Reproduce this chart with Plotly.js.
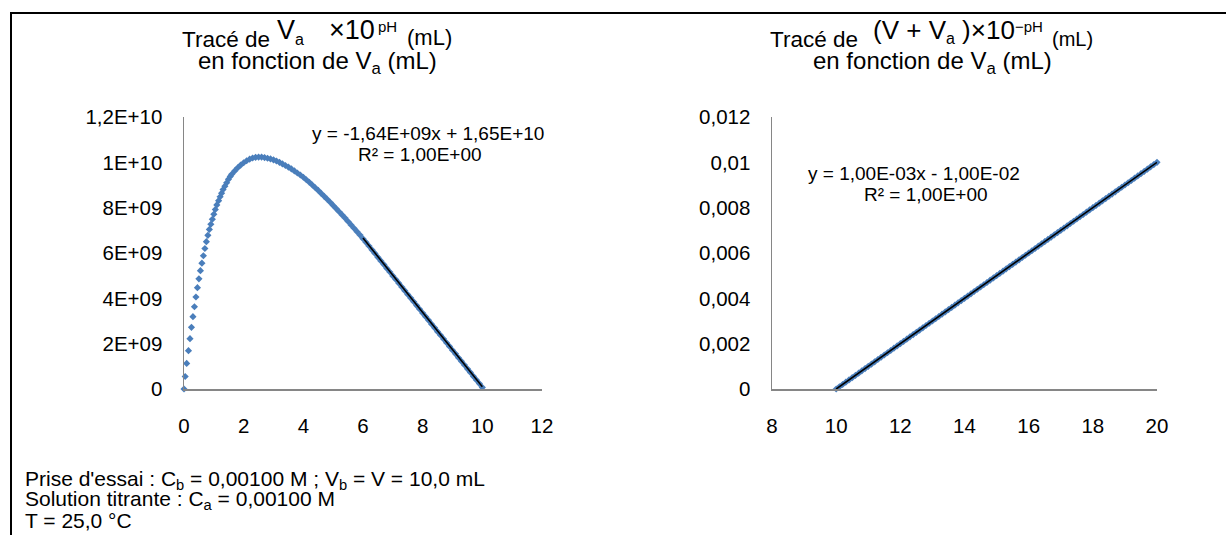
<!DOCTYPE html>
<html>
<head>
<meta charset="utf-8">
<script src="https://cdn.plot.ly/plotly-3.0.1.min.js"></script>
<style>
  html, body { margin: 0; padding: 0; background: #ffffff; }
  #chart { width: 1226px; height: 535px; }
</style>
</head>
<body>
<div id="chart"></div>
<script>
// Gran plot before equivalence: Va × 10^pH against Va (mL)
const vaBefore = [
  0, 0.04, 0.09, 0.15, 0.20, 0.25, 0.30, 0.35, 0.40, 0.45,
  0.50, 0.55, 0.60, 0.65, 0.70, 0.75, 0.80, 0.85, 0.90, 0.95,
  1.00, 1.05, 1.10, 1.16, 1.21, 1.26, 1.31, 1.37, 1.43, 1.49,
  1.55, 1.6, 1.7, 1.8, 1.9, 2.0, 2.1, 2.2, 2.3, 2.4,
  2.5, 2.6, 2.7, 2.8, 2.9, 3.0, 3.1, 3.2, 3.3, 3.4,
  3.5, 3.6, 3.7, 3.8, 3.9, 4.0, 4.1, 4.2, 4.3, 4.4,
  4.5, 4.6, 4.7, 4.8, 4.9, 5.0, 5.1, 5.2, 5.3, 5.4,
  5.5, 5.6, 5.7, 5.8, 5.9, 6.0, 6.1, 6.2, 6.3, 6.4,
  6.5, 6.6, 6.7, 6.8, 6.9, 7.0, 7.1, 7.2, 7.3, 7.4,
  7.5, 7.6, 7.7, 7.8, 7.9, 8.0, 8.1, 8.2, 8.3, 8.4,
  8.5, 8.6, 8.7, 8.8, 8.9, 9.0, 9.1, 9.2, 9.3, 9.4,
  9.5, 9.6, 9.7, 9.8, 9.9, 10.0
];
const granBefore = [
  0, 0.55e9, 1.13e9, 1.69e9, 2.22e9, 2.72e9, 3.19e9, 3.63e9, 4.06e9, 4.47e9,
  4.86e9, 5.22e9, 5.55e9, 5.88e9, 6.20e9, 6.50e9, 6.78e9, 7.04e9, 7.27e9, 7.49e9,
  7.71e9, 7.92e9, 8.12e9, 8.31e9, 8.48e9, 8.64e9, 8.80e9, 8.95e9, 9.10e9, 9.25e9,
  9.38e9, 9.47e9, 9.62e9, 9.76e9, 9.88e9, 9.98e9, 10.07e9, 10.14e9, 10.19e9, 10.22e9,
  10.23e9, 10.23e9, 10.21e9, 10.18e9, 10.15e9, 10.11e9, 10.06e9, 10.00e9, 9.93e9, 9.86e9,
  9.79e9, 9.71e9, 9.62e9, 9.53e9, 9.44e9, 9.34e9, 9.23e9, 9.12e9, 9.00e9, 8.88e9,
  8.76e9, 8.63e9, 8.50e9, 8.37e9, 8.24e9, 8.10e9, 7.96e9, 7.82e9, 7.68e9, 7.54e9,
  7.39e9, 7.24e9, 7.09e9, 6.94e9, 6.79e9, 6.63e9, 6.47e9, 6.31e9, 6.14e9, 5.98e9,
  5.81e9, 5.65e9, 5.49e9, 5.32e9, 5.16e9, 4.99e9, 4.83e9, 4.67e9, 4.50e9, 4.34e9,
  4.17e9, 4.01e9, 3.85e9, 3.68e9, 3.52e9, 3.35e9, 3.19e9, 3.03e9, 2.86e9, 2.70e9,
  2.53e9, 2.37e9, 2.21e9, 2.04e9, 1.88e9, 1.71e9, 1.55e9, 1.38e9, 1.22e9, 1.06e9,
  0.89e9, 0.73e9, 0.56e9, 0.40e9, 0.24e9, 0.07e9
];
// Linear trendline on the last part of the curve
const fitBeforeRange = [6, 10];
const fitBeforeSlope = -1.64e9;
const fitBeforeIntercept = 1.65e10;

// Gran plot after equivalence: (V + Va) × 10^-pH against Va (mL)
const vaAfter = [
  10.0, 10.1, 10.2, 10.3, 10.4, 10.5, 10.6, 10.7, 10.8, 10.9,
  11.0, 11.1, 11.2, 11.3, 11.4, 11.5, 11.6, 11.7, 11.8, 11.9,
  12.0, 12.1, 12.2, 12.3, 12.4, 12.5, 12.6, 12.7, 12.8, 12.9,
  13.0, 13.1, 13.2, 13.3, 13.4, 13.5, 13.6, 13.7, 13.8, 13.9,
  14.0, 14.1, 14.2, 14.3, 14.4, 14.5, 14.6, 14.7, 14.8, 14.9,
  15.0, 15.1, 15.2, 15.3, 15.4, 15.5, 15.6, 15.7, 15.8, 15.9,
  16.0, 16.1, 16.2, 16.3, 16.4, 16.5, 16.6, 16.7, 16.8, 16.9,
  17.0, 17.1, 17.2, 17.3, 17.4, 17.5, 17.6, 17.7, 17.8, 17.9,
  18.0, 18.1, 18.2, 18.3, 18.4, 18.5, 18.6, 18.7, 18.8, 18.9,
  19.0, 19.1, 19.2, 19.3, 19.4, 19.5, 19.6, 19.7, 19.8, 19.9,
  20.0
];
const granAfter = [
  0.0000, 0.0001, 0.0002, 0.0003, 0.0004, 0.0005, 0.0006, 0.0007, 0.0008, 0.0009,
  0.0010, 0.0011, 0.0012, 0.0013, 0.0014, 0.0015, 0.0016, 0.0017, 0.0018, 0.0019,
  0.0020, 0.0021, 0.0022, 0.0023, 0.0024, 0.0025, 0.0026, 0.0027, 0.0028, 0.0029,
  0.0030, 0.0031, 0.0032, 0.0033, 0.0034, 0.0035, 0.0036, 0.0037, 0.0038, 0.0039,
  0.0040, 0.0041, 0.0042, 0.0043, 0.0044, 0.0045, 0.0046, 0.0047, 0.0048, 0.0049,
  0.0050, 0.0051, 0.0052, 0.0053, 0.0054, 0.0055, 0.0056, 0.0057, 0.0058, 0.0059,
  0.0060, 0.0061, 0.0062, 0.0063, 0.0064, 0.0065, 0.0066, 0.0067, 0.0068, 0.0069,
  0.0070, 0.0071, 0.0072, 0.0073, 0.0074, 0.0075, 0.0076, 0.0077, 0.0078, 0.0079,
  0.0080, 0.0081, 0.0082, 0.0083, 0.0084, 0.0085, 0.0086, 0.0087, 0.0088, 0.0089,
  0.0090, 0.0091, 0.0092, 0.0093, 0.0094, 0.0095, 0.0096, 0.0097, 0.0098, 0.0099,
  0.0100
];
const fitAfterRange = [10, 20];
const fitAfterSlope = 1.00e-3;
const fitAfterIntercept = -1.00e-2;

// Axis ticks
const xTicksBefore = [0, 2, 4, 6, 8, 10, 12];
const yTicksBefore = [0, 2e9, 4e9, 6e9, 8e9, 1e10, 1.2e10];
const yLabelsBefore = ['0', '2E+09', '4E+09', '6E+09', '8E+09', '1E+10', '1,2E+10'];
const xTicksAfter = [8, 10, 12, 14, 16, 18, 20];
const yTicksAfter = [0, 0.002, 0.004, 0.006, 0.008, 0.01, 0.012];
const yLabelsAfter = ['0', '0,002', '0,004', '0,006', '0,008', '0,01', '0,012'];

// Title pieces: plain text, formula, exponent, unit; then the subtitle
const SUB_A = 'V<sub><span style="font-size:16px">a</span></sub>';
const titleBefore = ['Tracé de', SUB_A, '×10', 'pH', '(mL)'];
const titleAfter = ['Tracé de', '(V + ' + SUB_A + ' )×10', '−pH', '(mL)'];
const subtitle = 'en fonction de V<sub>a</sub> (mL)';

// Equation labels
const eqBefore = ['y = -1,64E+09x + 1,65E+10', 'R² = 1,00E+00'];
const eqAfter = ['y = 1,00E-03x - 1,00E-02', 'R² = 1,00E+00'];
const notes = [
  'Prise d\'essai : C<sub>b</sub> = 0,00100 M ; V<sub>b</sub> = V = 10,0 mL',
  'Solution titrante : C<sub>a</sub> = 0,00100 M',
  'T = 25,0 °C'
];

// ---- drawing ----
const W = 1226, H = 535;
const px = v => v / W;
const py = v => 1 - v / H;
const FONT = '"Liberation Sans", Arial, sans-serif';
const BLUE = '#4A7EBB';
const AXIS = '#868686';

const line = (range, a, b) => ({ x: range, y: range.map(v => a * v + b) });
const fitB = line(fitBeforeRange, fitBeforeSlope, fitBeforeIntercept);
const fitA = line(fitAfterRange, fitAfterSlope, fitAfterIntercept);

const traces = [
  { x: vaBefore, y: granBefore, xaxis: 'x', yaxis: 'y', mode: 'markers', type: 'scatter',
    marker: { symbol: 'diamond', size: 5.5, color: BLUE }, cliponaxis: false },
  { x: fitB.x, y: fitB.y, xaxis: 'x', yaxis: 'y', mode: 'lines', type: 'scatter',
    line: { color: '#000000', width: 1.6 }, cliponaxis: false },
  { x: vaAfter, y: granAfter, xaxis: 'x2', yaxis: 'y2', mode: 'markers', type: 'scatter',
    marker: { symbol: 'diamond', size: 5.5, color: BLUE }, cliponaxis: false },
  { x: fitA.x, y: fitA.y, xaxis: 'x2', yaxis: 'y2', mode: 'lines', type: 'scatter',
    line: { color: '#000000', width: 1.6 }, cliponaxis: false }
];

const tickFont = { family: FONT, size: 20.5, color: '#000000' };
const axisBase = {
  showline: true, linecolor: AXIS, linewidth: 1.5, showgrid: false, zeroline: false,
  ticks: '', tickfont: tickFont, fixedrange: true, tickmode: 'array'
};
const yDom = [1 - 389 / H, 1 - 117 / H];

const annotations = [];
const addText = (text, x, y, size, anchor) => annotations.push({
  xref: 'paper', yref: 'paper', x: px(x), y: py(y), text: text, showarrow: false,
  xanchor: anchor || 'center', yanchor: 'middle', borderpad: 0,
  font: { family: FONT, size: size, color: '#000000' }
});

// left title
addText(titleBefore[0], 181, 39.4, 22.5, 'left');
addText(titleBefore[1], 276, 31.3, 27, 'left');
addText(titleBefore[2], 328, 29.6, 27, 'left');
addText(titleBefore[3], 377, 26.5, 15, 'left');
addText(titleBefore[4], 406, 37.3, 22, 'left');
addText(subtitle, 317.5, 62, 24);
// right title
addText(titleAfter[0], 769, 39.4, 22.5, 'left');
addText(titleAfter[1], 872, 31.2, 26, 'left');
addText(titleAfter[2], 1014, 26.5, 15, 'left');
addText(titleAfter[3], 1051, 38.9, 20, 'left');
addText(subtitle, 932.5, 62, 24);

addText(eqBefore[0], 428, 133, 19);
addText(eqBefore[1], 420, 155, 19);
addText(eqAfter[0], 914, 173, 19);
addText(eqAfter[1], 926, 194, 19);

addText(notes[0], 24, 480, 21, 'left');
addText(notes[1], 24, 500, 21, 'left');
addText(notes[2], 24, 520, 21, 'left');

const layout = {
  width: W, height: H,
  margin: { l: 0, r: 0, t: 0, b: 0, pad: 0 },
  paper_bgcolor: '#ffffff', plot_bgcolor: '#ffffff',
  showlegend: false,
  font: { family: FONT, color: '#000000' },
  xaxis: Object.assign({}, axisBase, { domain: [px(184), px(542)], range: [0, 12],
    tickvals: xTicksBefore, ticktext: xTicksBefore.map(String), anchor: 'y', ticklabelstandoff: 18 }),
  yaxis: Object.assign({}, axisBase, { domain: yDom, range: [0, 1.2e10],
    tickvals: yTicksBefore, ticktext: yLabelsBefore, anchor: 'x', ticklabelstandoff: 16 }),
  xaxis2: Object.assign({}, axisBase, { domain: [px(772), px(1157)], range: [8, 20],
    tickvals: xTicksAfter, ticktext: xTicksAfter.map(String), anchor: 'y2', ticklabelstandoff: 18 }),
  yaxis2: Object.assign({}, axisBase, { domain: yDom, range: [0, 0.012],
    tickvals: yTicksAfter, ticktext: yLabelsAfter, anchor: 'x2', ticklabelstandoff: 16 }),
  annotations: annotations,
  shapes: [
    { type: 'rect', xref: 'paper', yref: 'paper', x0: px(11), x1: px(W + 20), y0: py(H + 20), y1: py(13),
      line: { color: '#000000', width: 2 }, fillcolor: 'rgba(0,0,0,0)' }
  ]
};

Plotly.newPlot('chart', traces, layout, { displayModeBar: false, staticPlot: true });
</script>
</body>
</html>
